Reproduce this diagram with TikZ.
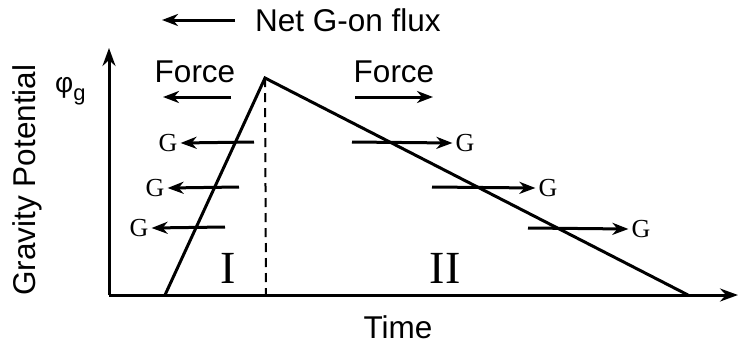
\documentclass[tikz,border=0pt]{standalone}
\usepackage{fontspec}
\setmainfont{Liberation Sans}
\newfontfamily\serifG{Liberation Serif}
\usetikzlibrary{arrows.meta}
\begin{document}
\begin{tikzpicture}[x=1pt,y=-1pt,
  line/.style={line width=3pt},
  arr/.style={line width=3pt,-{Stealth[length=16pt,width=12pt,inset=5pt]}},
  sans/.style={font=\fontsize{31.5}{33}\selectfont,inner sep=0pt},
  gl/.style={font=\serifG\fontsize{26}{28}\selectfont,inner sep=0pt},
  roman/.style={font=\serifG\fontsize{46}{48}\selectfont,inner sep=0pt}]
\useasboundingbox (0,0) rectangle (740,349);
% axes
\coordinate (O) at (109,295);
\coordinate (ytip) at (109,48);
\coordinate (xtip) at (738,295);
\draw[line,-{Stealth[length=18pt,width=13pt,inset=6pt]}] (O) -- (ytip);
\draw[line,-{Stealth[length=18pt,width=13pt,inset=6pt]}] (O) -- (xtip);
% triangle
\coordinate (s) at (165,295);
\coordinate (p) at (265,78);
\coordinate (e) at (688,295);
\coordinate (db) at (266,295);
\draw[line,line join=miter] (s) -- (p) -- (e);
\draw[line width=2pt,dash pattern=on 9pt off 6pt] (p) -- (db);
% labels
\node[sans,rotate=90] (ylab) at (27,180) {Gravity Potential};
\node[sans] (xlab) at (398,327) {Time};
\node[sans,anchor=west] (net) at (255,20) {Net G-on flux};
\coordinate (na) at (235,20);
\coordinate (nb) at (162,20);
\draw[arr] (na) -- (nb);
\node[font=\fontsize{28}{30}\selectfont,inner sep=0pt,anchor=base west] (phi) at (55,92) {φ\raisebox{-8pt}{\fontsize{22}{24}\selectfont g}};
\node[sans] (f1) at (195,72) {Force};
\node[sans] (f2) at (394,72) {Force};
\coordinate (f1a) at (231,97);
\coordinate (f1b) at (163,97);
\draw[arr] (f1a) -- (f1b);
\coordinate (f2a) at (355,97);
\coordinate (f2b) at (433,97);
\draw[arr] (f2a) -- (f2b);
\node[roman] (r1) at (228,268) {I};
\node[roman] (r2) at (445,268) {II};
% left G arrows
\node[gl] (g1) at (168,143) {G};
\node[gl] (g2) at (155,188) {G};
\node[gl] (g3) at (139,228) {G};
\coordinate (l1) at (254,142);
\coordinate (l2) at (239,187);
\coordinate (l3) at (225,227);
\draw[arr] (l1) -- ([xshift=3pt]g1.east);
\draw[arr] (l2) -- ([xshift=3pt]g2.east);
\draw[arr] (l3) -- ([xshift=3pt]g3.east);
% right G arrows
\node[gl] (h1) at (465,143) {G};
\node[gl] (h2) at (548,188) {G};
\node[gl] (h3) at (641,229) {G};
\coordinate (m1) at (352,142);
\coordinate (m2) at (432,187);
\coordinate (m3) at (528,228);
\draw[arr] (m1) -- ([xshift=-3pt]h1.west);
\draw[arr] (m2) -- ([xshift=-3pt]h2.west);
\draw[arr] (m3) -- ([xshift=-3pt]h3.west);
\end{tikzpicture}
\end{document}
